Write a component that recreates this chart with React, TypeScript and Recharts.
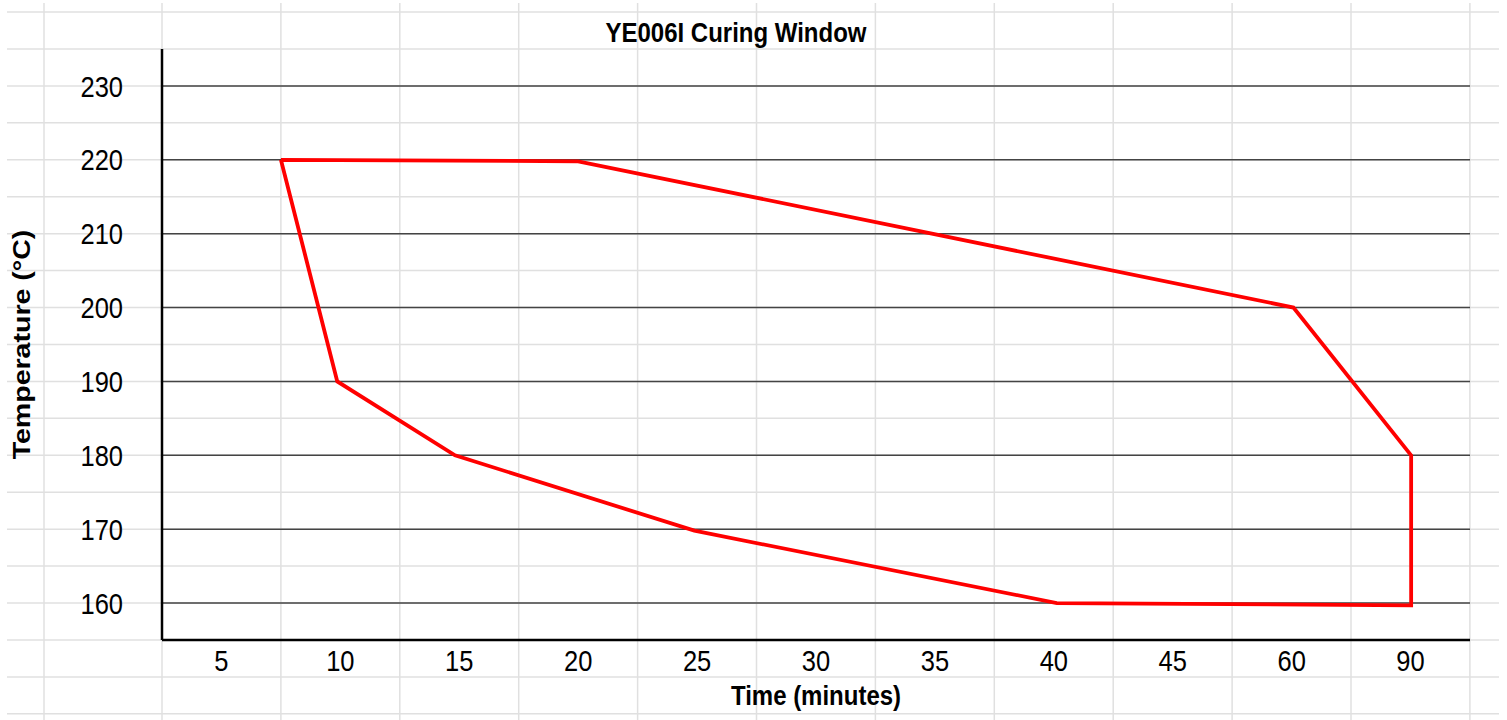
import React from 'react';
import { LineChart, Line, XAxis, YAxis, ReferenceLine } from 'recharts';

// Category labels along the time axis
const timeLabels = ['5', '10', '15', '20', '25', '30', '35', '40', '45', '60', '90'];
// Temperature ticks
const tempTicks = [160, 170, 180, 190, 200, 210, 220, 230];
// Curing window outline: x position in category slots along the time axis, temperature in °C
const windowSlot = [1.0, 3.5, 9.515, 10.505, 10.505, 7.525, 4.477, 2.464, 1.474, 1.0];
const windowTemp = [220, 219.8, 200, 180, 159.7, 160, 169.8, 180, 190, 220];

const data = windowSlot.map((s, i) => ({ slot: s, temp: windowTemp[i] }));
const slotTicks = timeLabels.map((_, i) => i + 0.5);

const W = 1507;
const H = 720;
const FONT = '"Liberation Sans", Arial, sans-serif';
const SY = 1.19;

const SheetGrid = () => {
  const xs: number[] = [44];
  for (let k = 0; k <= 11; k++) xs.push(162 + 118.9 * k);
  const ys: number[] = [];
  for (let k = 0; k <= 19; k++) ys.push(12 + 36.94 * k);
  return (
    <svg width={W} height={H} style={{ position: 'absolute', left: 0, top: 0 }}>
      <rect x={0} y={0} width={W} height={H} fill="#ffffff" />
      {ys.map((y, i) => (
        <line key={'h' + i} x1={7} x2={1499} y1={y} y2={y} stroke="#e0e0e0" strokeWidth={1.5} />
      ))}
      {xs.map((x, i) => (
        <line key={'v' + i} x1={x} x2={x} y1={3} y2={H} stroke="#e0e0e0" strokeWidth={1.5} />
      ))}
      <text
        transform={`translate(736,32) scale(1,${SY})`}
        textAnchor="middle"
        dy="0.35em"
        fontFamily={FONT}
        fontWeight="bold"
        fontSize={24}
        fill="#000"
      >
        YE006I Curing Window
      </text>
    </svg>
  );
};

const YTick = (props: any) => {
  const { x, y, payload } = props;
  return (
    <text
      transform={`translate(${x},${y}) scale(1,${SY})`}
      textAnchor="end"
      dy="0.35em"
      fontFamily={FONT}
      fontSize={25.5}
      fill="#000"
    >
      {payload.value}
    </text>
  );
};

const XTick = (props: any) => {
  const { x, y, payload } = props;
  const idx = Math.round(payload.value - 0.5);
  return (
    <text
      transform={`translate(${x},${y}) scale(1,${SY})`}
      textAnchor="middle"
      dy="0.35em"
      fontFamily={FONT}
      fontSize={25.5}
      fill="#000"
    >
      {timeLabels[idx]}
    </text>
  );
};

const XLabel = (props: any) => {
  const vb = props.viewBox || {};
  const cx = vb.x + vb.width / 2;
  const cy = vb.y + 55;
  return (
    <text
      transform={`translate(${cx},${cy}) scale(1,${SY})`}
      textAnchor="middle"
      dy="0.35em"
      fontFamily={FONT}
      fontWeight="bold"
      fontSize={24}
      fill="#000"
    >
      Time (minutes)
    </text>
  );
};

const YLabel = (props: any) => {
  const vb = props.viewBox || {};
  const cy = vb.y + vb.height / 2;
  return (
    <text
      transform={`translate(22,${cy}) scale(1,${SY}) rotate(-90)`}
      textAnchor="middle"
      dy="0.35em"
      fontFamily={FONT}
      fontWeight="bold"
      fontSize={24}
      fill="#000"
    >
      Temperature (°C)
    </text>
  );
};

export default function App() {
  return (
    <div style={{ position: 'absolute', left: 0, top: 0, width: W, height: H }}>
      <SheetGrid />
      <div style={{ position: 'absolute', left: 0, top: 0 }}>
        <LineChart
          width={W}
          height={H}
          data={data}
          margin={{ top: 49, right: 37, bottom: 40, left: 0 }}
        >
          {tempTicks.map((t) => (
            <ReferenceLine key={t} y={t} stroke="#444" strokeWidth={1.5} />
          ))}
          <XAxis
            dataKey="slot"
            type="number"
            domain={[0, 11]}
            ticks={slotTicks}
            interval={0}
            height={40}
            tickLine={false}
            tickSize={0}
            tickMargin={20}
            axisLine={{ stroke: '#000', strokeWidth: 2.5 }}
            tick={<XTick />}
            label={<XLabel />}
            allowDataOverflow
          />
          <YAxis
            type="number"
            domain={[155, 235]}
            ticks={tempTicks}
            interval={0}
            width={162}
            tickLine={false}
            tickSize={0}
            tickMargin={39}
            axisLine={{ stroke: '#000', strokeWidth: 2.5 }}
            tick={<YTick />}
            label={<YLabel />}
            allowDataOverflow
          />
          <Line
            type="linear"
            dataKey="temp"
            stroke="#ff0000"
            strokeWidth={3.8}
            dot={false}
            isAnimationActive={false}
            strokeLinejoin="miter"
          />
        </LineChart>
      </div>
    </div>
  );
}
